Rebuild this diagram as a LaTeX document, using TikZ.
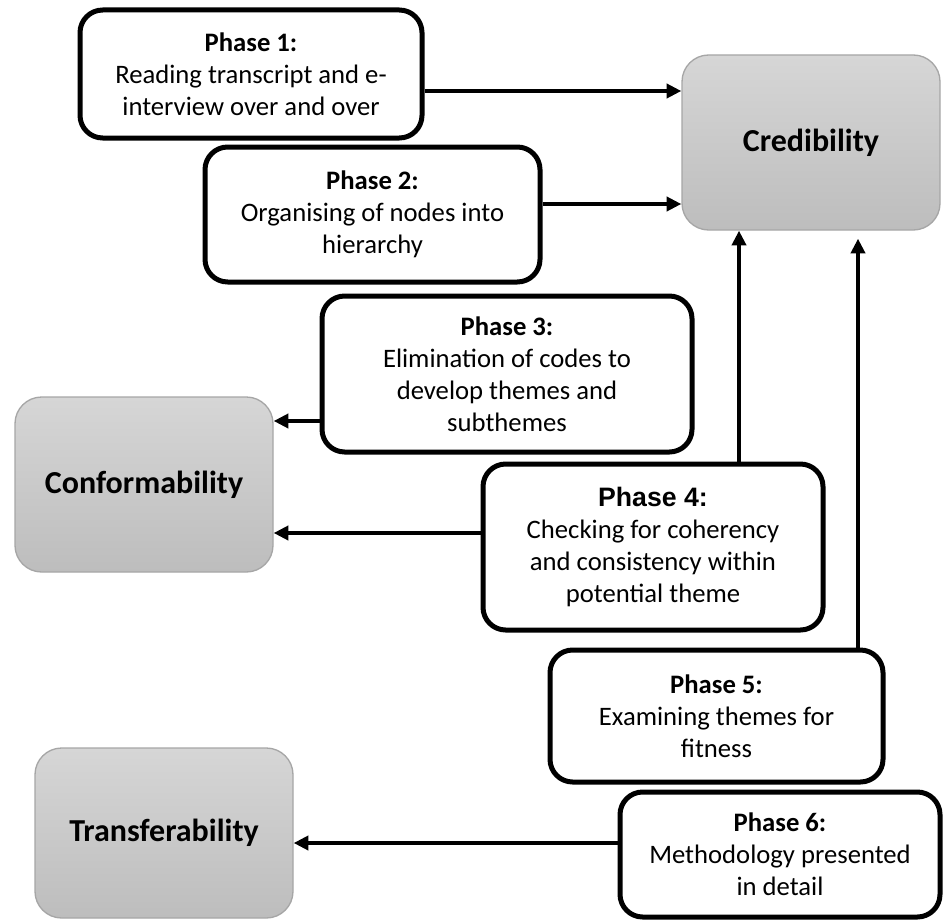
\documentclass[tikz,border=0pt]{standalone}
\usepackage{fontspec}
\setmainfont{Carlito}
\newfontfamily\arialfont{Liberation Sans}
\usepackage{tikz}
\usetikzlibrary{calc}
\usetikzlibrary{arrows.meta}

\definecolor{critTop}{HTML}{D6D6D6}
\definecolor{critBot}{HTML}{BDBDBD}
\definecolor{critEdge}{HTML}{A6A6A6}

\begin{document}
\begin{tikzpicture}[x=0.75pt,y=-0.75pt]
			\def\u{0.75pt}
			\tikzset{phasebox/.style 2 args={draw, line width=3.75pt, rounded corners=17pt, fill=white, align=center, inner sep=0pt, minimum width=#1*\u, minimum height=#2*\u, font=\fontsize{20}{24}\selectfont}}
			\tikzset{critbox/.style 2 args={draw=critEdge, line width=1pt, rounded corners=20pt, top color=critTop, bottom color=critBot, minimum width=#1*\u, minimum height=#2*\u, font=\fontsize{24}{28}\selectfont\bfseries}}
			\tikzset{link/.style={line width=3pt, -{Triangle[length=11pt,width=10.5pt]}}}
			\useasboundingbox (0,0) rectangle (944,920);
			% criteria
			\node[critbox={258}{175}] (cred) at (811,142.5) {Credibility};
			\node[critbox={258}{175}] (conf) at (144,484.5) {Conformability};
			\node[critbox={258}{170}] (trans) at (164,833) {Transferability};
			% phases
			\node[phasebox={342}{128}] (p1) at (251,74) {\textbf{Phase 1:}\\Reading transcript and e-\\interview over and over};
			\node[phasebox={335}{135}] (p2) at (372.5,214.5) {\textbf{Phase 2:}\\Organising of nodes into\\hierarchy};
			\node[phasebox={370}{156}] (p3) at (507,374) {\textbf{Phase 3:}\\Elimination of codes to\\develop themes and\\subthemes};
			\node[phasebox={340}{166}] (p4) at (653,547) {{\arialfont\bfseries Phase 4:}\\Checking for coherency\\and consistency within\\potential theme};
			\node[phasebox={333}{132}] (p5) at (716.5,716) {\textbf{Phase 5:}\\Examining themes for\\fitness};
			\node[phasebox={320}{125}] (p6) at (780,854.5) {\textbf{Phase 6:}\\Methodology presented\\in detail};
			% arrows
			\foreach \from/\fa/\dy/\to/\ta in {p1/east/17/cred/west, p2/east/-10.5/cred/west, p3/west/47/conf/east, p4/west/-14/conf/east, p6/west/-11.5/trans/east}{
				\coordinate (s) at ($(\from.\fa)+(0,\dy)$);
				\draw[link] (s) -- (s -| \to.\ta);
			}
			\coordinate (s4) at ($(p4.north)+(86,0)$);
			\draw[link] (s4) -- (s4 |- cred.south);
			\coordinate (s5) at ($(p5.north)+(141.5,0)$);
			\draw[link, shorten >=6pt] (s5) -- (s5 |- cred.south);
		\end{tikzpicture}
\end{document}
